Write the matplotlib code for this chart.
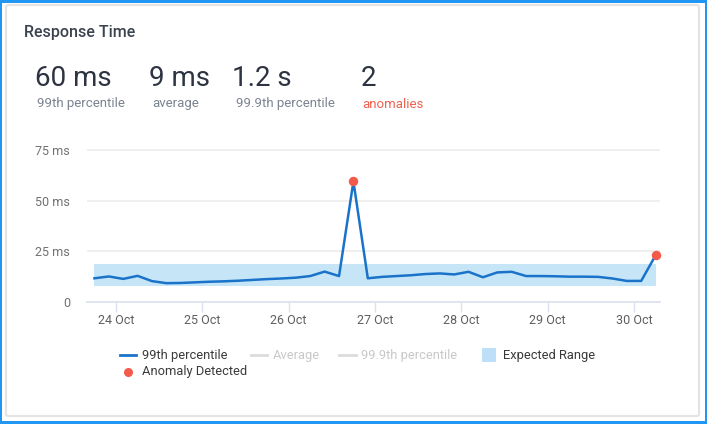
import numpy as np
import pandas as pd
import matplotlib
matplotlib.use("Agg")
import matplotlib.pyplot as plt
import matplotlib.dates as mdates
from matplotlib.patches import Rectangle, FancyBboxPatch
from matplotlib.lines import Line2D

plt.rcParams['font.family'] = ['Roboto', 'DejaVu Sans']

# ---------------- data ----------------
start_time = "2023-10-23 18:00"
n_points = 40
p99_values = [11.7, 12.6, 11.4, 12.9, 10.3, 9.3, 9.4, 9.7, 10.0, 10.2,
              10.5, 10.9, 11.3, 11.6, 12.0, 12.8, 15.0, 12.8, 59.5, 11.7,
              12.4, 12.8, 13.2, 13.8, 14.1, 13.6, 14.9, 12.2, 14.6, 14.9,
              12.8, 12.8, 12.7, 12.5, 12.5, 12.4, 11.6, 10.4, 10.4, 23.0]
anomaly_idx = [18, 39]
band_low = 7.9
band_high = 18.7
y_ticks = [0, 25, 50, 75]
y_tick_labels = ["0", "25 ms", "50 ms", "75 ms"]
x_tick_dates = ["2023-10-24", "2023-10-25", "2023-10-26", "2023-10-27",
                "2023-10-28", "2023-10-29", "2023-10-30"]
stat_values = ["60 ms", "9 ms", "1.2 s", "2"]
stat_labels = ["99th percentile", "average", "99.9th percentile", "anomalies"]
legend_labels = ["99th percentile", "Average", "99.9th percentile",
                 "Expected Range", "Anomaly Detected"]
title = "Response Time"

times = pd.date_range(start_time, periods=n_points, freq="4h")
p99 = np.array(p99_values)

# ---------------- figure ----------------
W, H = 707, 424
fig = plt.figure(figsize=(W / 100, H / 100), dpi=100)
fig.patch.set_facecolor("#2196f3")


def fx(px):
    return px / W


def fy(py):
    return 1 - py / H


# white inner area
fig.patches.append(Rectangle((fx(2), fy(421)), fx(705) - fx(2), fy(3) - fy(421),
                             transform=fig.transFigure, facecolor="white",
                             edgecolor="none", zorder=-20))
# card border
fig.patches.append(FancyBboxPatch((fx(6), fy(416)), fx(699) - fx(6), fy(5) - fy(416),
                                  boxstyle="round,pad=0,rounding_size=0.004",
                                  transform=fig.transFigure, facecolor="white",
                                  edgecolor="#e4e4e4", linewidth=1.6, zorder=-10))

# header
fig.text(fx(24), fy(33), title, fontsize=11.5, fontweight="medium",
         color="#3b4350", va="center", ha="left")
stat_x = [35, 149, 232, 361]
label_x = [37, 152, 236, 362]
for i in range(4):
    fig.text(fx(stat_x[i]), fy(86), stat_values[i], fontsize=20, fontweight="normal",
             color="#2d3340", va="baseline", ha="left")
    fig.text(fx(label_x[i]), fy(104), stat_labels[i], fontsize=9.5,
             color="#f0604f" if i == 3 else "#7b8391", va="center", ha="left")

# ---------------- axes ----------------
ymax = 80
px_per_unit = (302 - 150) / 75
top_px = 302 - ymax * px_per_unit
ax = fig.add_axes([fx(87), fy(302), fx(660) - fx(87), (302 - top_px) / H])
ax.set_facecolor("none")

x_left = pd.Timestamp("2023-10-24") - pd.Timedelta(days=(116 - 87) / 86.3)
x_right = pd.Timestamp("2023-10-30") + pd.Timedelta(days=(660 - 634) / 86.3)
ax.set_xlim(x_left, x_right)
ax.set_ylim(0, ymax)

ax.fill_between(times, band_low, band_high, color="#c6e6f8", linewidth=0, zorder=1)
ax.plot(times, p99, color="#1a73c9", linewidth=1.8, zorder=3, solid_joinstyle="round")
ax.plot(times[anomaly_idx], p99[anomaly_idx], "o", color="#f4594b",
        markersize=6.8, markeredgewidth=0, zorder=4, clip_on=False)

for s in ["top", "right", "left"]:
    ax.spines[s].set_visible(False)
ax.spines["bottom"].set_color("#dbe2ee")
ax.spines["bottom"].set_linewidth(1.2)

ax.set_yticks(y_ticks)
ax.set_yticklabels(y_tick_labels)
ax.yaxis.grid(True, color="#ececec", linewidth=1.2, zorder=0)
ax.set_axisbelow(True)
ax.tick_params(axis="y", length=0, pad=17 * 0.72, labelsize=9, labelcolor="#707070")

ax.set_xticks(pd.to_datetime(x_tick_dates))
ax.xaxis.set_major_formatter(mdates.DateFormatter("%d %b"))
ax.tick_params(axis="x", length=7, width=1.0, color="#dbe2ee", pad=2,
               labelsize=9, labelcolor="#5e5e5e")

# ---------------- legend (manual) ----------------
leg_y1, leg_y2 = 355, 372
dark = "#3a3a3a"
faded = "#c8c8c8"
fs_leg = 9.3
fig.add_artist(Line2D([fx(120), fx(136)], [fy(leg_y1)] * 2, color="#1a73c9",
                      linewidth=2, transform=fig.transFigure))
fig.text(fx(142), fy(leg_y1), legend_labels[0], fontsize=fs_leg, color=dark, va="center")
fig.add_artist(Line2D([fx(251), fx(267)], [fy(leg_y1)] * 2, color="#dcdcdc",
                      linewidth=2, transform=fig.transFigure))
fig.text(fx(273), fy(leg_y1), legend_labels[1], fontsize=fs_leg, color=faded, va="center")
fig.add_artist(Line2D([fx(339), fx(356)], [fy(leg_y1)] * 2, color="#dcdcdc",
                      linewidth=2, transform=fig.transFigure))
fig.text(fx(361), fy(leg_y1), legend_labels[2], fontsize=fs_leg, color=faded, va="center")
fig.patches.append(Rectangle((fx(482), fy(362)), fx(496) - fx(482), fy(348) - fy(362),
                             transform=fig.transFigure, facecolor="#bde0f8",
                             edgecolor="none"))
fig.text(fx(503), fy(leg_y1), legend_labels[3], fontsize=fs_leg, color=dark, va="center")
fig.add_artist(Line2D([fx(128)], [fy(leg_y2)], marker="o", color="#f4594b",
                      markersize=6.5, markeredgewidth=0, linestyle="none",
                      transform=fig.transFigure))
fig.text(fx(142), fy(leg_y2), legend_labels[4], fontsize=fs_leg, color=dark, va="center")

fig.savefig("out.png", dpi=100, facecolor=fig.get_facecolor())
